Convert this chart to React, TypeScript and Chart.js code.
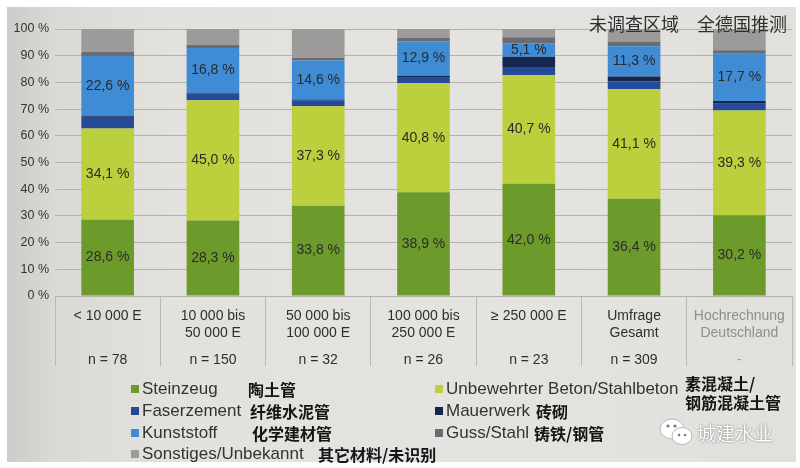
import React, { useEffect, useRef } from 'react';
import { Chart, registerables } from 'chart.js';

Chart.register(...registerables);

// ---------- data ----------
const categories = [
  ['< 10 000 E'],
  ['10 000 bis', '50 000 E'],
  ['50 000 bis', '100 000 E'],
  ['100 000 bis', '250 000 E'],
  ['≥ 250 000 E'],
  ['Umfrage', 'Gesamt'],
  ['Hochrechnung', 'Deutschland'],
];
const sampleSizes = ['n = 78', 'n = 150', 'n = 32', 'n = 26', 'n = 23', 'n = 309', '-'];

const seriesNames = [
  'Steinzeug',
  'Unbewehrter Beton/Stahlbeton',
  'Faserzement',
  'Mauerwerk',
  'Kunststoff',
  'Guss/Stahl',
  'Sonstiges/Unbekannt',
];
const seriesZh = ['陶土管', '素混凝土/\n钢筋混凝土管', '纤维水泥管', '砖砌', '化学建材管', '铸铁/钢管', '其它材料/未识别'];

const steinzeug = [28.6, 28.3, 33.8, 38.9, 42.0, 36.4, 30.2];
const beton = [34.1, 45.0, 37.3, 40.8, 40.7, 41.1, 39.3];
const faserzement = [4.3, 2.6, 2.2, 2.0, 3.1, 2.9, 2.5];
const mauerwerk = [0.3, 0.2, 0.3, 0.8, 3.8, 1.8, 1.0];
const kunststoff = [22.6, 16.8, 14.6, 12.9, 5.1, 11.3, 17.7];
const gussStahl = [1.5, 1.2, 1.0, 1.2, 2.2, 1.8, 1.3];
const sonstiges = [8.6, 5.9, 10.8, 3.4, 3.1, 4.7, 8.0];

const labelledSeries = [0, 1, 4];
const topNotes = ['未调查区域', '全德国推测'];
const watermark = '城建水业';

// ---------- styles ----------
const seriesData = [steinzeug, beton, faserzement, mauerwerk, kunststoff, gussStahl, sonstiges];
const seriesColors = ['#6d9b2b', '#bccf3c', '#244a98', '#16274f', '#3f8bd4', '#6a6c72', '#9c9b99'];
const latin = '"Liberation Sans", Arial, Helvetica, sans-serif';
const cjk = '"Noto Sans CJK SC", "Noto Sans", sans-serif';

const legendLayout = [
  { s: 0, x: 131, y: 389, zx: 248 },
  { s: 2, x: 131, y: 411, zx: 250 },
  { s: 4, x: 131, y: 433, zx: 252 },
  { s: 6, x: 131, y: 454, zx: 318 },
  { s: 1, x: 435, y: 389, zx: 685 },
  { s: 3, x: 435, y: 411, zx: 536 },
  { s: 5, x: 435, y: 433, zx: 534 },
];

const fmt = (v: number) => v.toFixed(1).replace('.', ',') + ' %';

const valueLabels = {
  id: 'valueLabels',
  afterDatasetsDraw(chart: any) {
    const ctx = chart.ctx;
    ctx.save();
    ctx.font = `14px ${latin}`;
    ctx.fillStyle = '#2b2b2b';
    ctx.textAlign = 'center';
    ctx.textBaseline = 'middle';
    labelledSeries.forEach((di) => {
      const meta = chart.getDatasetMeta(di);
      meta.data.forEach((el: any, i: number) => {
        const v = chart.data.datasets[di].data[i];
        ctx.fillText(fmt(v), el.x, (el.y + el.base) / 2);
      });
    });
    ctx.restore();
  },
};

export default function App() {
  const ref = useRef<HTMLCanvasElement>(null);

  useEffect(() => {
    const chart = new Chart(ref.current as HTMLCanvasElement, {
      type: 'bar',
      data: {
        labels: categories,
        datasets: seriesNames.map((name, i) => ({
          label: name,
          data: seriesData[i],
          backgroundColor: seriesColors[i],
          borderWidth: 0,
          categoryPercentage: 1,
          barPercentage: 0.5,
          xAxisID: 'x',
          yAxisID: 'y',
        })),
      },
      options: {
        responsive: false,
        animation: false,
        layout: { padding: { left: 0, right: 8, top: 29, bottom: 100 } },
        plugins: {
          legend: { display: false },
          tooltip: { enabled: false },
        },
        scales: {
          x: {
            stacked: true,
            weight: 0,
            offset: true,
            grid: {
              display: true,
              drawOnChartArea: false,
              drawTicks: true,
              tickLength: 48,
              color: '#bab8b3',
              lineWidth: 1,
              offset: true,
            },
            border: { display: false },
            ticks: {
              autoSkip: false,
              maxRotation: 0,
              minRotation: 0,
              padding: -36,
              color: (c: any) => (c.index === 6 ? '#8e8e8e' : '#2e2e2e'),
              font: { family: latin, size: 14, lineHeight: '17px' },
            },
            afterFit: (s: any) => {
              s.height = 48;
            },
          },
          xn: {
            type: 'category',
            labels: sampleSizes,
            position: 'bottom',
            weight: 1,
            offset: true,
            grid: {
              display: true,
              drawOnChartArea: false,
              drawTicks: true,
              tickLength: 22,
              color: '#bab8b3',
              lineWidth: 1,
              offset: true,
            },
            border: { display: false },
            ticks: {
              autoSkip: false,
              maxRotation: 0,
              minRotation: 0,
              padding: -14,
              color: (c: any) => (c.index === 6 ? '#9a9a9a' : '#2e2e2e'),
              font: { family: latin, size: 14, lineHeight: '17px' },
            },
            afterFit: (s: any) => {
              s.height = 24;
            },
          },
          y: {
            stacked: true,
            min: 0,
            max: 100,
            ticks: {
              stepSize: 10,
              padding: 6,
              color: '#333333',
              font: { family: latin, size: 12.5 },
              callback: (v: any) => v + ' %',
            },
            grid: { color: '#b3b1ac', lineWidth: 1, drawTicks: false },
            border: { display: false },
            afterFit: (s: any) => {
              s.width = 55;
            },
          },
        },
      } as any,
      plugins: [valueLabels],
    });
    return () => chart.destroy();
  }, []);

  return (
    <div
      style={{
        position: 'fixed',
        left: 0,
        top: 0,
        width: 800,
        height: 468,
        background: '#ffffff',
        overflow: 'hidden',
      }}
    >
      <div
        style={{
          position: 'absolute',
          left: 7,
          top: 7,
          width: 789,
          height: 455,
          background:
            'linear-gradient(to right, #cdccc9 0%, #dad9d5 6%, #e2e1dd 20%, #e4e3df 60%, #e1e0dc 100%)',
        }}
      />
      <canvas
        ref={ref}
        width={800}
        height={468}
        style={{ position: 'absolute', left: 0, top: 0, width: 800, height: 468 }}
      />
      {/* top annotations */}
      <div style={{ position: 'absolute', left: 589, top: 11, font: `18px ${cjk}`, color: '#2f2f2f', lineHeight: '24px', whiteSpace: 'nowrap' }}>
        {topNotes[0]}
      </div>
      <div style={{ position: 'absolute', left: 697, top: 11, font: `18px ${cjk}`, color: '#2f2f2f', lineHeight: '24px', whiteSpace: 'nowrap' }}>
        {topNotes[1]}
      </div>
      {/* legend */}
      {legendLayout.map((it) => (
        <React.Fragment key={it.s}>
          <div
            style={{
              position: 'absolute',
              left: it.x,
              top: it.y - 4,
              width: 8,
              height: 8,
              background: seriesColors[it.s],
            }}
          />
          <div
            style={{
              position: 'absolute',
              left: it.x + 11,
              top: it.y - 11,
              font: `17px ${latin}`,
              lineHeight: '22px',
              color: '#333333',
              whiteSpace: 'nowrap',
            }}
          >
            {seriesNames[it.s]}
          </div>
          <div
            style={{
              position: 'absolute',
              left: it.zx,
              top: it.s === 1 ? 374 : it.y - 12,
              font: `bold 16px ${cjk}`,
              lineHeight: it.s === 1 ? '19px' : '24px',
              color: '#151515',
              whiteSpace: 'pre',
            }}
          >
            {seriesZh[it.s]}
          </div>
        </React.Fragment>
      ))}
      {/* watermark */}
      <svg style={{ position: 'absolute', left: 658, top: 418 }} width={38} height={30} viewBox="0 0 38 30">
        <ellipse cx={14} cy={11} rx={12} ry={10} fill="#ffffff" stroke="#b8b8b8" strokeWidth={1} />
        <ellipse cx={24} cy={18} rx={10} ry={8.5} fill="#ffffff" stroke="#b8b8b8" strokeWidth={1} />
        <circle cx={10} cy={8} r={1.6} fill="#7a7a7a" />
        <circle cx={17} cy={8} r={1.6} fill="#7a7a7a" />
        <circle cx={21} cy={17} r={1.3} fill="#7a7a7a" />
        <circle cx={27} cy={17} r={1.3} fill="#7a7a7a" />
      </svg>
      <div
        style={{
          position: 'absolute',
          left: 697,
          top: 420,
          font: `19px ${cjk}`,
          lineHeight: '26px',
          color: '#ffffff',
          textShadow: '0 0 2px #8a8a8a, 0 0 1px #777',
          whiteSpace: 'nowrap',
        }}
      >
        {watermark}
      </div>
    </div>
  );
}
